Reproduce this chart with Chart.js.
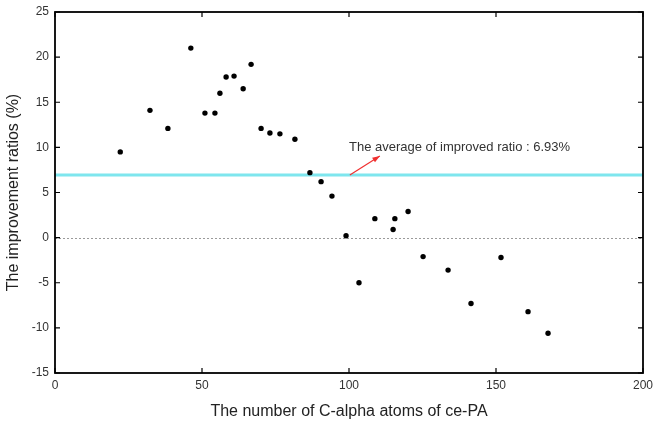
<!DOCTYPE html>
<html>
<head>
<meta charset="utf-8">
<script src="https://cdn.jsdelivr.net/npm/chart.js@4/dist/chart.umd.min.js"></script>
<style>
  html, body { margin: 0; padding: 0; background: #fff; }
  #wrap { width: 656px; height: 421px; position: relative; }
</style>
</head>
<body>
<div id="wrap"><canvas id="c" width="656" height="421"></canvas></div>
<script>
// ---- data ----
const atomCounts = [22.2, 32.3, 38.4, 46.2, 51.0, 54.4, 56.1, 58.2, 60.9, 64.0, 66.7, 70.1, 73.1, 76.5, 81.6, 86.7, 90.5, 94.2, 99.0, 103.4, 108.8, 115.0, 115.6, 120.1, 125.2, 133.7, 141.5, 151.7, 160.9, 167.7];
const improvementRatios = [9.5, 14.1, 12.1, 21.0, 13.8, 13.8, 16.0, 17.8, 17.9, 16.5, 19.2, 12.1, 11.6, 11.5, 10.9, 7.2, 6.2, 4.6, 0.2, -5.0, 2.1, 0.9, 2.1, 2.9, -2.1, -3.6, -7.3, -2.2, -8.2, -10.6];
const averageRatio = 6.93;
const xTickValues = [0, 50, 100, 150, 200];
const yTickValues = [-15, -10, -5, 0, 5, 10, 15, 20, 25];
const xTitle = 'The number of C-alpha atoms of ce-PA';
const yTitle = 'The improvement ratios (%)';
const annotationText = 'The average of improved ratio : 6.93%';
const arrowFrom = [100.3, 6.93];
const arrowTo = [110.5, 9.05];
const annotationAt = [100.0, 10.05];

const points = atomCounts.map((x, i) => ({ x: x, y: improvementRatios[i] }));
const avgLine = [{ x: xTickValues[0], y: averageRatio }, { x: xTickValues[xTickValues.length - 1], y: averageRatio }];

const FONT = "'Liberation Sans', Arial, sans-serif";

const framePlugin = {
  id: 'frame',
  beforeDatasetsDraw(chart) {
    const { ctx, chartArea: a, scales: { x, y } } = chart;
    ctx.save();
    ctx.strokeStyle = '#9a9a9a';
    ctx.lineWidth = 1;
    ctx.setLineDash([2, 2]);
    const y0 = Math.round(y.getPixelForValue(0)) + 0.5;
    ctx.beginPath();
    ctx.moveTo(a.left, y0);
    ctx.lineTo(a.right, y0);
    ctx.stroke();
    ctx.restore();
  },
  afterDatasetsDraw(chart) {
    const { ctx, chartArea: a, scales: { x, y } } = chart;
    ctx.save();
    ctx.strokeStyle = '#000';
    ctx.lineWidth = 1.2;
    const tl = 5;
    ctx.beginPath();
    yTickValues.forEach(v => {
      const py = y.getPixelForValue(v);
      ctx.moveTo(a.left, py); ctx.lineTo(a.left + tl, py);
      ctx.moveTo(a.right, py); ctx.lineTo(a.right - tl, py);
    });
    xTickValues.forEach(v => {
      const px = x.getPixelForValue(v);
      ctx.moveTo(px, a.bottom); ctx.lineTo(px, a.bottom - tl);
      ctx.moveTo(px, a.top); ctx.lineTo(px, a.top + tl);
    });
    ctx.stroke();
    ctx.lineWidth = 1.8;
    ctx.strokeRect(a.left, a.top, a.right - a.left, a.bottom - a.top);

    // arrow
    const x1 = x.getPixelForValue(arrowFrom[0]), y1 = y.getPixelForValue(arrowFrom[1]);
    const x2 = x.getPixelForValue(arrowTo[0]), y2 = y.getPixelForValue(arrowTo[1]);
    ctx.strokeStyle = '#f03030';
    ctx.fillStyle = '#f03030';
    ctx.lineWidth = 1.2;
    ctx.beginPath();
    ctx.moveTo(x1, y1); ctx.lineTo(x2, y2); ctx.stroke();
    const ang = Math.atan2(y2 - y1, x2 - x1);
    const hl = 8, hw = 0.35;
    ctx.beginPath();
    ctx.moveTo(x2, y2);
    ctx.lineTo(x2 - hl * Math.cos(ang - hw), y2 - hl * Math.sin(ang - hw));
    ctx.lineTo(x2 - hl * Math.cos(ang + hw), y2 - hl * Math.sin(ang + hw));
    ctx.closePath();
    ctx.fill();

    ctx.fillStyle = '#333';
    ctx.font = '13px ' + FONT;
    ctx.textAlign = 'left';
    ctx.textBaseline = 'middle';
    ctx.fillText(annotationText, x.getPixelForValue(annotationAt[0]), y.getPixelForValue(annotationAt[1]));
    ctx.restore();
  }
};

new Chart(document.getElementById('c'), {
  type: 'scatter',
  data: {
    datasets: [
      {
        label: 'average',
        type: 'line',
        data: avgLine,
        borderColor: '#7ee6ee',
        borderWidth: 3,
        pointRadius: 0,
        fill: false,
        order: 2
      },
      {
        label: 'ratios',
        data: points,
        backgroundColor: '#000',
        borderColor: '#000',
        pointRadius: 2.7,
        pointBorderWidth: 0,
        order: 1
      }
    ]
  },
  options: {
    responsive: false,
    animation: false,
    devicePixelRatio: 1,
    layout: { padding: { top: 12, right: 13, left: 0, bottom: 0 } },
    plugins: { legend: { display: false }, tooltip: { enabled: false } },
    scales: {
      x: {
        type: 'linear',
        min: 0, max: 200,
        afterBuildTicks: s => { s.ticks = xTickValues.map(v => ({ value: v })); },
        afterFit: s => { s.height = 48; s.paddingLeft = 0; s.paddingRight = 0; },
        grid: { display: false, drawTicks: false },
        border: { display: false },
        ticks: { padding: 5, color: '#333', font: { family: FONT, size: 12 }, maxRotation: 0 },
        title: { display: true, text: xTitle, color: '#222', font: { family: FONT, size: 16 }, padding: { top: 0, bottom: 0 } }
      },
      y: {
        type: 'linear',
        min: -15, max: 25,
        afterBuildTicks: s => { s.ticks = yTickValues.map(v => ({ value: v })); },
        afterFit: s => { s.width = 55; s.paddingTop = 0; s.paddingBottom = 0; },
        grid: { display: false, drawTicks: false },
        border: { display: false },
        ticks: { padding: 6, color: '#333', font: { family: FONT, size: 12 } },
        title: { display: true, text: yTitle, color: '#222', font: { family: FONT, size: 16 }, padding: { top: 4, bottom: 0 } }
      }
    }
  },
  plugins: [framePlugin]
});
</script>
</body>
</html>
